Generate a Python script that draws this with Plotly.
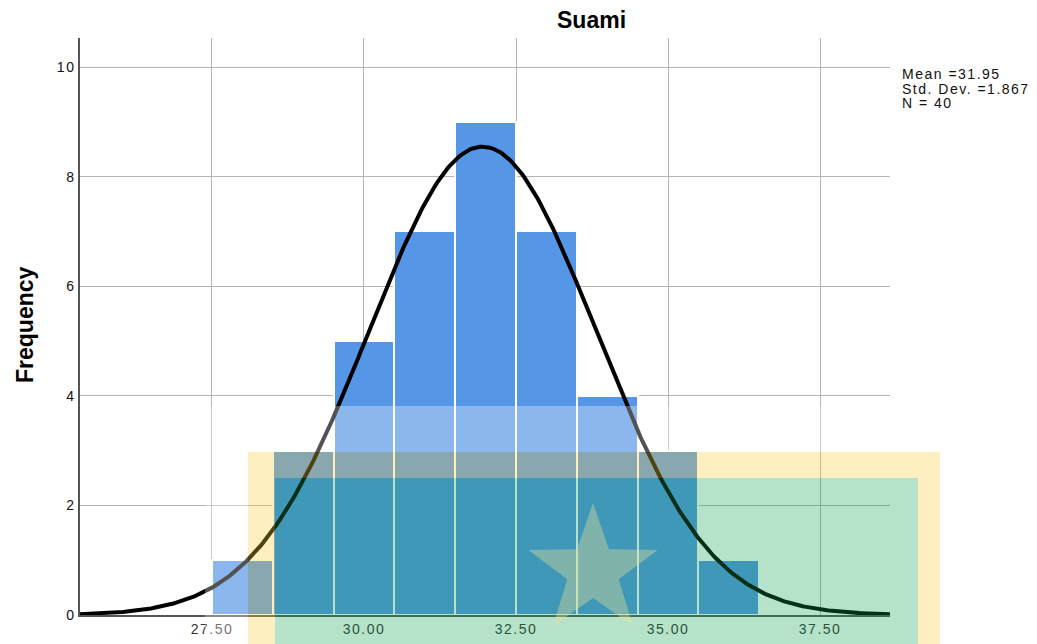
import numpy as np
import plotly.graph_objects as go

# Data
bin_centers = [28, 29, 30, 31, 32, 33, 34, 35, 36]
frequencies = [1, 3, 5, 7, 9, 7, 4, 3, 1]
bin_width = 1.0
mean_val = 31.95
std_val = 1.867
n_val = 40
x_ticks = [27.5, 30.0, 32.5, 35.0, 37.5]
y_ticks = [0, 2, 4, 6, 8, 10]
x_range = [25.33, 38.65]
y_range = [0, 10.53]
stats_lines = ["Mean =31.95", "Std. Dev. =1.867", "N = 40"]

# page geometry (the page body has a default 8px margin)
OFF = 8
PAGE_W, PAGE_H = 1037, 644
W, H = PAGE_W - OFF, PAGE_H - OFF
PL, PT, PR, PB = 80, 38, 890, 615  # plot area in page pixels
L, T = PL - OFF, PT - OFF
PW, PH = PR - PL, PB - PT
R, B = W - L - PW, H - T - PH
LS = '<span style="letter-spacing:1.5px">{}</span>'

def px(x):
    return (x - PL) / PW

def py(y):
    return (PB - y) / PH

fig = go.Figure()
fig.add_trace(go.Bar(
    x=bin_centers, y=frequencies, width=bin_width,
    marker=dict(color="#5596e6", line=dict(color="white", width=2)),
    hoverinfo="x+y", showlegend=False,
))

xc = np.linspace(x_range[0], x_range[1], 400)
yc = n_val * bin_width / (std_val * np.sqrt(2 * np.pi)) * np.exp(-0.5 * ((xc - mean_val) / std_val) ** 2)
fig.add_trace(go.Scatter(x=xc, y=yc, mode="lines", line=dict(color="black", width=4),
                         showlegend=False, hoverinfo="skip"))

shapes = []

def rect(x0, x1, y0, y1, color, op):
    shapes.append(dict(type="rect", xref="paper", yref="paper", layer="above",
                       x0=px(x0), x1=px(x1), y0=py(y1), y1=py(y0),
                       fillcolor=color, opacity=op, line=dict(width=0)))

# overlay decoration (semi-transparent picture): white frame, yellow frame, green field
WHITE = "white"
rect(205, 960, 406, 452, WHITE, 0.32)
rect(205, 248, 452, 650, WHITE, 0.32)
rect(940, 960, 452, 650, WHITE, 0.32)
YEL = "rgb(250,205,60)"
rect(248, 940, 452, 478, YEL, 0.32)
rect(248, 275, 478, 650, YEL, 0.32)
rect(918, 940, 478, 650, YEL, 0.32)
rect(275, 918, 478, 650, "rgb(15,160,80)", 0.3)
# star
cx, cy, ro, ri = 593, 571, 68, 27
pts = []
for k in range(10):
    ang = -np.pi / 2 + k * np.pi / 5
    r = ro if k % 2 == 0 else ri
    pts.append((cx + r * np.cos(ang), cy + r * np.sin(ang)))
path = "M " + " L ".join(f"{px(a):.5f},{py(b):.5f}" for a, b in pts) + " Z"
shapes.append(dict(type="path", xref="paper", yref="paper", layer="above", path=path,
                   fillcolor="rgb(235,225,150)", opacity=0.38, line=dict(width=0)))

annotations = [
    dict(text="<b>Suami</b>", xref="paper", yref="paper", x=px(591), y=py(20),
         xanchor="center", yanchor="middle", showarrow=False,
         font=dict(size=23, color="black")),
    dict(text="<b>Frequency</b>", xref="paper", yref="paper", x=px(25), y=py(325),
         xanchor="center", yanchor="middle", showarrow=False, textangle=-90,
         font=dict(size=23, color="black")),
]
for i, line in enumerate(stats_lines):
    annotations.append(dict(text=LS.format(line), xref="paper", yref="paper",
                            x=px(900), y=py(74 + 14.5 * i), xanchor="left", yanchor="middle",
                            align="left", showarrow=False,
                            font=dict(size=14, color="#111")))

fig.update_layout(
    width=W, height=H,
    margin=dict(l=L, r=R, t=T, b=B),
    paper_bgcolor="white", plot_bgcolor="white",
    font=dict(family="Liberation Sans, Arial, sans-serif", color="#222"),
    bargap=0,
    shapes=shapes,
    xaxis=dict(range=x_range, tickvals=x_ticks,
               ticktext=[LS.format(f"{v:.2f}") for v in x_ticks],
               showgrid=True, gridcolor="#b4b4b4", gridwidth=1,
               showline=True, linecolor="#555", linewidth=1.5, automargin=False,
               ticks="", zeroline=False, tickfont=dict(size=14, color="#333")),
    yaxis=dict(range=y_range, tickvals=y_ticks,
               ticktext=[LS.format(str(v)) for v in y_ticks],
               showgrid=True, gridcolor="#b4b4b4", gridwidth=1,
               showline=True, linecolor="#555", linewidth=1.5, automargin=False,
               ticks="", zeroline=False, tickfont=dict(size=14, color="#111")),
    annotations=annotations,
)

fig.write_html("out.html")
